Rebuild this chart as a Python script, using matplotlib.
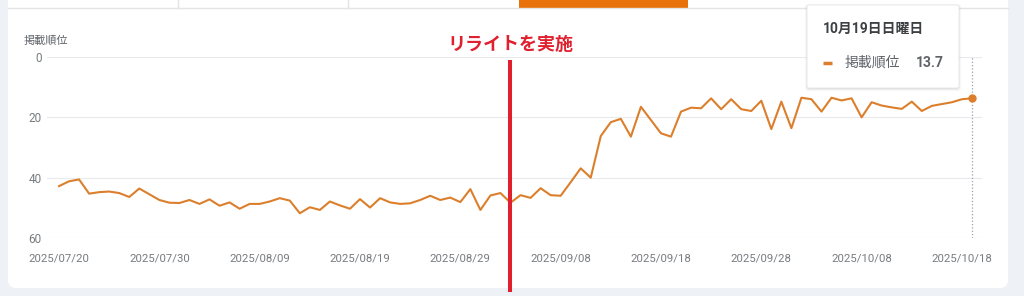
import matplotlib
matplotlib.use('Agg')
import matplotlib.pyplot as plt
import matplotlib.dates as mdates
import matplotlib.transforms as mtransforms
from matplotlib.patches import Rectangle, FancyBboxPatch
import pandas as pd

plt.rcParams['font.family'] = ['Roboto', 'Noto Sans CJK JP', 'DejaVu Sans']

# daily average position, 2025/07/20 - 2025/10/19
dates = pd.date_range('2025-07-20', '2025-10-19', freq='D')
position = [
    42.8, 41.2, 40.6, 45.3, 44.8, 44.6, 45.1, 46.4, 43.6, 45.5,
    47.4, 48.3, 48.4, 47.4, 48.7, 47.2, 49.3, 48.2, 50.3, 48.7,
    48.7, 47.9, 46.8, 47.6, 51.8, 49.8, 50.7, 47.9, 49.2, 50.3,
    47.1, 49.9, 46.8, 48.2, 48.7, 48.5, 47.4, 46.0, 47.4, 46.6,
    48.1, 43.8, 50.7, 45.9, 45.1, 48.3, 45.8, 46.7, 43.5, 45.8,
    46.0, 41.5, 36.9, 40.0, 26.2, 21.6, 20.5, 26.4, 16.5, 20.9,
    25.3, 26.4, 18.1, 16.8, 17.0, 13.7, 17.3, 14.0, 17.3, 17.9,
    14.5, 23.9, 14.8, 23.6, 13.5, 14.0, 18.1, 13.5, 14.4, 13.7,
    20.0, 15.0, 16.1, 16.7, 17.2, 14.8, 17.9, 16.2, 15.6, 15.0,
    14.0, 13.7,
]
tick_dates = pd.date_range('2025-07-20', '2025-10-18', freq='10D')
y_ticks = [0, 20, 40, 60]
rewrite_date = pd.Timestamp('2025-09-03')
rewrite_label = 'リライトを実施'
metric_name = '掲載順位'
tooltip_title = '10月19日日曜日'

W, H = 1024, 296
line_color = '#dc7f2c'
red = '#e0202e'
grey_text = '#787c80'

fig = plt.figure(figsize=(W / 100, H / 100), dpi=100)
fig.patch.set_facecolor('#eef1f6')
px = mtransforms.IdentityTransform()

def fy(y):
    return H - y

# card + tab row
fig.add_artist(FancyBboxPatch((8, fy(288)), 1000, 300, boxstyle='round,pad=0,rounding_size=8',
                              transform=px, facecolor='white', edgecolor='none', zorder=0))
fig.add_artist(plt.Line2D([8, 1008], [fy(8), fy(8)], transform=px, color='#e3e4e6', lw=1))
for xs in [178, 348]:
    fig.add_artist(plt.Line2D([xs, xs], [fy(0), fy(8)], transform=px, color='#e3e4e6', lw=1))
fig.add_artist(Rectangle((519, fy(8)), 169, 8, transform=px, facecolor='#e8710a', edgecolor='none'))

ax = fig.add_axes([47 / W, fy(238) / H, (982 - 47) / W, (238 - 57) / H])
ax.set_facecolor('none')
ax.plot(dates, position, color=line_color, lw=1.5, zorder=3)
ax.plot(dates[-1:], position[-1:], 'o', color=line_color, ms=5, zorder=4)

ax.set_xlim(dates[0] - pd.Timedelta(days=1.2), dates[0] + pd.Timedelta(days=92.0))
ax.set_ylim(60, 0)
ax.set_yticks(y_ticks)
ax.set_xticks(tick_dates)
ax.xaxis.set_major_formatter(mdates.DateFormatter('%Y/%m/%d'))
ax.grid(axis='y', color='#e8eaed', lw=0.8)
ax.tick_params(axis='y', length=0, labelsize=8.5, labelcolor=grey_text, pad=4)
ax.tick_params(axis='x', length=0, labelsize=8.2, labelcolor=grey_text, pad=11)
for s in ax.spines.values():
    s.set_visible(False)

# hover line at the last day
ax.axvline(dates[-1], color='#9aa0a6', ls=':', lw=0.9, zorder=2)

# rewrite marker
ax.axvline(rewrite_date, ymin=-0.287, ymax=0.975, color=red, lw=2.9, clip_on=False, zorder=5)
trans = mtransforms.blended_transform_factory(ax.transData, ax.transAxes)
ax.text(rewrite_date, 1.066, rewrite_label, transform=trans, ha='center', va='center',
        color=red, fontsize=13, fontweight='bold')

fig.text(24 / W, fy(41) / H, metric_name, ha='left', va='center', fontsize=8, color='#5f6368')

# tooltip
for i, a in enumerate([0.05, 0.04, 0.03]):
    fig.add_artist(FancyBboxPatch((807 - i, fy(88) - 1 - i), 152 + 2 * i, 83 + 2 * i,
                                  boxstyle='round,pad=0,rounding_size=3', transform=px,
                                  facecolor='black', alpha=a, edgecolor='none', zorder=6))
fig.add_artist(FancyBboxPatch((807, fy(88)), 152, 83, boxstyle='round,pad=0,rounding_size=2',
                              transform=px, facecolor='white', edgecolor='#e6e6e6', lw=0.6, zorder=7))
fig.text(823 / W, fy(29) / H, tooltip_title, ha='left', va='center', fontsize=10,
         fontweight='bold', color='#3c4043', zorder=8)
fig.add_artist(plt.Line2D([823, 832], [fy(63), fy(63)], transform=px, color=line_color,
                          lw=2.5, solid_capstyle='butt', zorder=8))
fig.text(845 / W, fy(63) / H, metric_name, ha='left', va='center', fontsize=10,
         color='#5f6368', zorder=8)
fig.text(944 / W, fy(63) / H, f'{position[-1]:.1f}', ha='right', va='center', fontsize=10,
         fontweight='bold', color='#5f6368', zorder=8)

fig.savefig('out.png', dpi=100, facecolor=fig.get_facecolor())
